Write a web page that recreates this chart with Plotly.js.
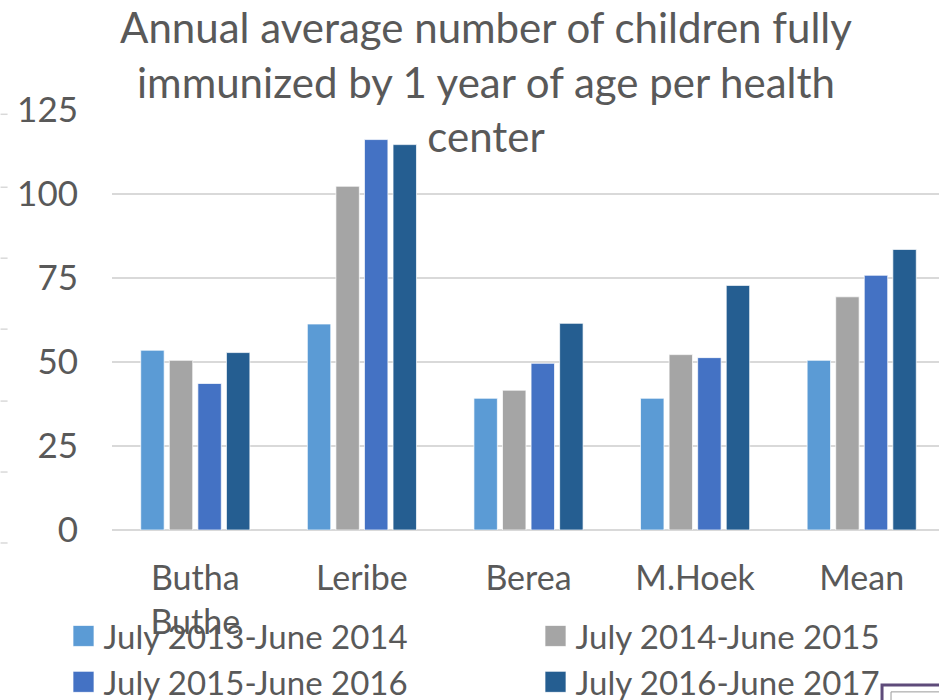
<!DOCTYPE html>
<html>
<head>
<meta charset="utf-8">
<script src="https://cdn.plot.ly/plotly-3.0.1.min.js"></script>
<style>html,body{margin:0;padding:0;background:#fff;}#chart{width:939px;height:700px;}</style>
</head>
<body>
<div id="chart"></div>
<script>
const categories = ['Butha<br>Buthe', 'Leribe', 'Berea', 'M.Hoek', 'Mean'];
const seriesNames = ['July 2013-June 2014', 'July 2014-June 2015', 'July 2015-June 2016', 'July 2016-June 2017'];
const s2013 = [53.5, 61.3, 39.2, 39.2, 50.5];
const s2014 = [50.5, 102.3, 41.6, 52.2, 69.4];
const s2015 = [43.6, 116.2, 49.6, 51.3, 75.8];
const s2016 = [52.8, 114.7, 61.5, 72.8, 83.5];
const yTicks = [0, 25, 50, 75, 100, 125];
const colors = ['#5B9BD5', '#A5A5A5', '#4472C4', '#255E91'];

const FONT = 'Lato, "Open Sans", sans-serif';
const TXT = '#595959';
const W = 939, H = 700;
const ML = 111.5, MT = 109.7, MB = 170;
const PW = W - ML, PH = H - MT - MB;
const px2x = p => (p - ML) / PW;
const px2y = p => (H - MB - p) / PH;

const series = [s2013, s2014, s2015, s2016];
const legendOf = ['legend', 'legend2', 'legend', 'legend2'];
const traces = series.map((vals, i) => ({
  type: 'bar',
  name: seriesNames[i],
  x: categories,
  y: vals,
  legend: legendOf[i],
  marker: {color: colors[i], line: {color: 'rgba(255,255,255,0.7)', width: 1}},
  hoverinfo: 'x+y+name'
}));

// decorative fragments of the surrounding slide (left frame ticks, corner box)
const shapes = [];
[114, 187, 258, 329, 401, 472, 543].forEach(py => shapes.push({
  type: 'line', xref: 'paper', yref: 'paper',
  x0: px2x(0), x1: px2x(7), y0: px2y(py), y1: px2y(py),
  line: {color: '#D9D9D9', width: 1.5}
}));
shapes.push({type: 'rect', xref: 'paper', yref: 'paper',
  x0: px2x(882), x1: px2x(980), y0: px2y(685), y1: px2y(730),
  line: {color: '#5E4B7A', width: 3}, fillcolor: 'rgba(0,0,0,0)'});
shapes.push({type: 'rect', xref: 'paper', yref: 'paper',
  x0: px2x(891), x1: px2x(980), y0: px2y(692), y1: px2y(730),
  line: {color: '#9A9A9A', width: 1}, fillcolor: 'rgba(0,0,0,0)'});

const legendFont = {family: FONT, size: 33, color: TXT};
const layout = {
  width: W, height: H,
  paper_bgcolor: '#fff', plot_bgcolor: '#fff',
  font: {family: FONT, color: TXT},
  margin: {l: ML, r: 0, t: MT, b: MB, pad: 0, autoexpand: false},
  title: {
    text: 'Annual average number of children fully<br>immunized by 1 year of age per health<br>center',
    xref: 'container', yref: 'container',
    x: 486/W, xanchor: 'center',
    y: 1 - 43/H, yanchor: 'top',
    font: {family: FONT, size: 42, color: TXT}
  },
  barmode: 'group',
  bargap: 0.314,
  bargroupgap: 0.18,
  xaxis: {
    type: 'category',
    range: [-0.5, 4.464],
    showgrid: false, zeroline: false, showline: false,
    ticks: '', tickangle: 0, automargin: false,
    tickfont: {family: FONT, size: 34, color: TXT},
    ticklabelstandoff: 25
  },
  yaxis: {
    range: [0, 125],
    tickvals: yTicks,
    showgrid: true, gridcolor: '#D9D9D9', gridwidth: 1.5,
    zeroline: true, zerolinecolor: '#D9D9D9', zerolinewidth: 1.5,
    showline: false, ticks: '', automargin: false,
    tickfont: {family: FONT, size: 35, color: TXT},
    ticklabelstandoff: 33
  },
  shapes: shapes,
  showlegend: true,
  legend: {
    orientation: 'v',
    xref: 'container', yref: 'container',
    x: 63.5/W, xanchor: 'left',
    y: 1 - 608/H, yanchor: 'top',
    font: legendFont,
    bgcolor: 'rgba(0,0,0,0)',
    traceorder: 'normal'
  },
  legend2: {
    orientation: 'v',
    xref: 'container', yref: 'container',
    x: 535.5/W, xanchor: 'left',
    y: 1 - 608/H, yanchor: 'top',
    font: legendFont,
    bgcolor: 'rgba(0,0,0,0)',
    traceorder: 'normal'
  }
};

Plotly.newPlot('chart', traces, layout, {displayModeBar: false, responsive: false}).then(gd => {
  gd.querySelectorAll('.legendpoints path').forEach(p => p.setAttribute('d', 'M10.5,10.5H-10.5V-10.5H10.5Z'));
});
</script>
</body>
</html>
